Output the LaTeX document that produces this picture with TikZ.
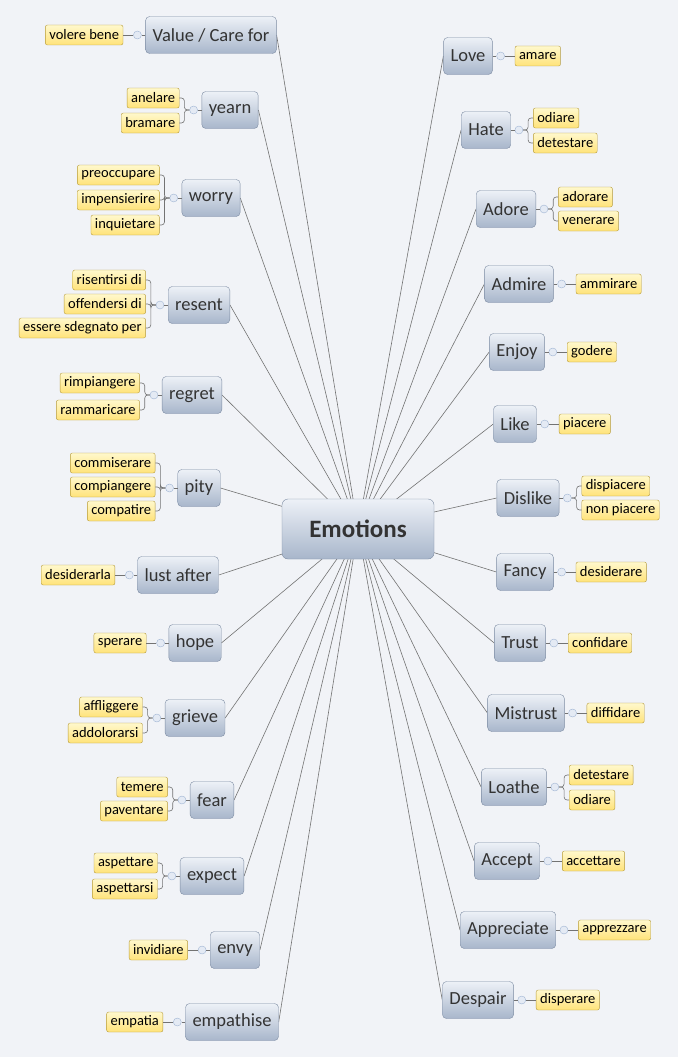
\documentclass[tikz,border=0pt]{standalone}
\usepackage{fontspec}
\setmainfont{Carlito}
\usetikzlibrary{backgrounds,calc}
\definecolor{bg}{HTML}{F1F3F7}
\definecolor{mtop}{HTML}{EDF1F7}
\definecolor{mbot}{HTML}{A8B6CB}
\definecolor{mdraw}{HTML}{7D8CA3}
\definecolor{ltop}{HTML}{FFF8CC}
\definecolor{lbot}{HTML}{FFE37A}
\definecolor{ldraw}{HTML}{B59A3A}
\definecolor{dotc}{HTML}{C9D6EA}
\definecolor{dotd}{HTML}{9FB4D3}
\tikzset{
 main/.style={draw=mdraw,rounded corners=4pt,top color=mtop,bottom color=mbot,minimum height=37pt,inner xsep=7pt,font=\fontsize{18.5}{18.5}\selectfont,text=black!80},
 leaf/.style={draw=ldraw,rounded corners=2pt,top color=ltop,bottom color=lbot,minimum height=20pt,inner xsep=4pt,inner ysep=0pt,font=\fontsize{14.5}{14.5}\selectfont},
 dot/.style={circle,draw=dotd,fill=dotc!50,minimum size=8pt,inner sep=0pt},
 con/.style={draw=black!55,line width=0.6pt},
 spoke/.style={draw=black!55,line width=0.6pt},
}
\newcommand\Lmain[4]{\node[main] (#1) at (#2,#3) {#4};
 \node[dot] (#1dot) at ([xshift=-8pt]#1.west) {};
 \draw[con] (#1.west)--(#1dot);
 \path (#1dot.west) ++(-10,0) coordinate (#1p);
 \begin{pgfonlayer}{background}\draw[spoke] (E.center)--(#1.east);\end{pgfonlayer}}
\newcommand\Rmain[4]{\node[main] (#1) at (#2,#3) {#4};
 \node[dot] (#1dot) at ([xshift=8pt]#1.east) {};
 \draw[con] (#1.east)--(#1dot);
 \path (#1dot.east) ++(10,0) coordinate (#1p);
 \begin{pgfonlayer}{background}\draw[spoke] (E.center)--(#1.west);\end{pgfonlayer}}
\newcommand\Lleaf[4]{\node[leaf,anchor=east] (#2) at (#1p |- 0,#3) {#4};
 \draw[con,rounded corners=3pt] (#1dot.west) -- ++(-5,0) |- (#2.east);}
\newcommand\Rleaf[4]{\node[leaf,anchor=west] (#2) at (#1p |- 0,#3) {#4};
 \draw[con,rounded corners=3pt] (#1dot.east) -- ++(5,0) |- (#2.west);}
\newcommand\Lone[3]{\node[leaf,anchor=east] (#2) at (#1p) {#3};
 \draw[con] (#1dot.west) -- (#2.east);}
\newcommand\Rone[3]{\node[leaf,anchor=west] (#2) at (#1p) {#3};
 \draw[con] (#1dot.east) -- (#2.west);}
\begin{document}
\begin{tikzpicture}[x=1pt,y=-1pt]
\begin{pgfonlayer}{background}\fill[bg] (0,0) rectangle (678,1057);\end{pgfonlayer}
\useasboundingbox (0,0) rectangle (678,1057);
\node[main,minimum width=152pt,minimum height=60pt,rounded corners=6pt,font=\fontsize{25}{25}\selectfont\bfseries] (E) at (358,529) {Emotions};
% left
\Lmain{L1}{211}{35}{Value / Care for}
\Lone{L1}{L1a}{volere bene}
\Lmain{L2}{230}{110}{yearn}
\Lleaf{L2}{L2a}{98}{anelare}
\Lleaf{L2}{L2b}{123}{bramare}
\Lmain{L3}{211}{198}{worry}
\Lleaf{L3}{L3a}{175}{preoccupare}
\Lleaf{L3}{L3b}{200}{impensierire}
\Lleaf{L3}{L3c}{225}{inquietare}
\Lmain{L4}{199}{305}{resent}
\Lleaf{L4}{L4a}{280}{risentirsi di}
\Lleaf{L4}{L4b}{304}{offendersi di}
\Lleaf{L4}{L4c}{328}{essere sdegnato per}
\Lmain{L5}{192}{395}{regret}
\Lleaf{L5}{L5a}{383}{rimpiangere}
\Lleaf{L5}{L5b}{410}{rammaricare}
\Lmain{L6}{199}{488}{pity}
\Lleaf{L6}{L6a}{463}{commiserare}
\Lleaf{L6}{L6b}{487}{compiangere}
\Lleaf{L6}{L6c}{511}{compatire}
\Lmain{L7}{178}{575}{lust after}
\Lone{L7}{L7a}{desiderarla}
\Lmain{L8}{195}{643}{hope}
\Lone{L8}{L8a}{sperare}
\Lmain{L9}{195}{718}{grieve}
\Lleaf{L9}{L9a}{707}{affliggere}
\Lleaf{L9}{L9b}{733}{addolorarsi}
\Lmain{L10}{212}{800}{fear}
\Lleaf{L10}{L10a}{787}{temere}
\Lleaf{L10}{L10b}{811}{paventare}
\Lmain{L11}{212}{876}{expect}
\Lleaf{L11}{L11a}{863}{aspettare}
\Lleaf{L11}{L11b}{889}{aspettarsi}
\Lmain{L12}{235}{950}{envy}
\Lone{L12}{L12a}{invidiare}
\Lmain{L13}{232}{1022}{empathise}
\Lone{L13}{L13a}{empatia}
% right
\Rmain{R1}{468}{56}{Love}
\Rone{R1}{R1a}{amare}
\Rmain{R2}{486}{130}{Hate}
\Rleaf{R2}{R2a}{118}{odiare}
\Rleaf{R2}{R2b}{143}{detestare}
\Rmain{R3}{506}{209}{Adore}
\Rleaf{R3}{R3a}{197}{adorare}
\Rleaf{R3}{R3b}{221}{venerare}
\Rmain{R4}{519}{284}{Admire}
\Rone{R4}{R4a}{ammirare}
\Rmain{R5}{517}{352}{Enjoy}
\Rone{R5}{R5a}{godere}
\Rmain{R6}{515}{424}{Like}
\Rone{R6}{R6a}{piacere}
\Rmain{R7}{528}{498}{Dislike}
\Rleaf{R7}{R7a}{486}{dispiacere}
\Rleaf{R7}{R7b}{510}{non piacere}
\Rmain{R8}{525}{572}{Fancy}
\Rone{R8}{R8a}{desiderare}
\Rmain{R9}{520}{643}{Trust}
\Rone{R9}{R9a}{confidare}
\Rmain{R10}{526}{713}{Mistrust}
\Rone{R10}{R10a}{diffidare}
\Rmain{R11}{514}{787}{Loathe}
\Rleaf{R11}{R11a}{775}{detestare}
\Rleaf{R11}{R11b}{800}{odiare}
\Rmain{R12}{507}{861}{Accept}
\Rone{R12}{R12a}{accettare}
\Rmain{R13}{508}{930}{Appreciate}
\Rone{R13}{R13a}{apprezzare}
\Rmain{R14}{478}{1000}{Despair}
\Rone{R14}{R14a}{disperare}
\end{tikzpicture}
\end{document}
